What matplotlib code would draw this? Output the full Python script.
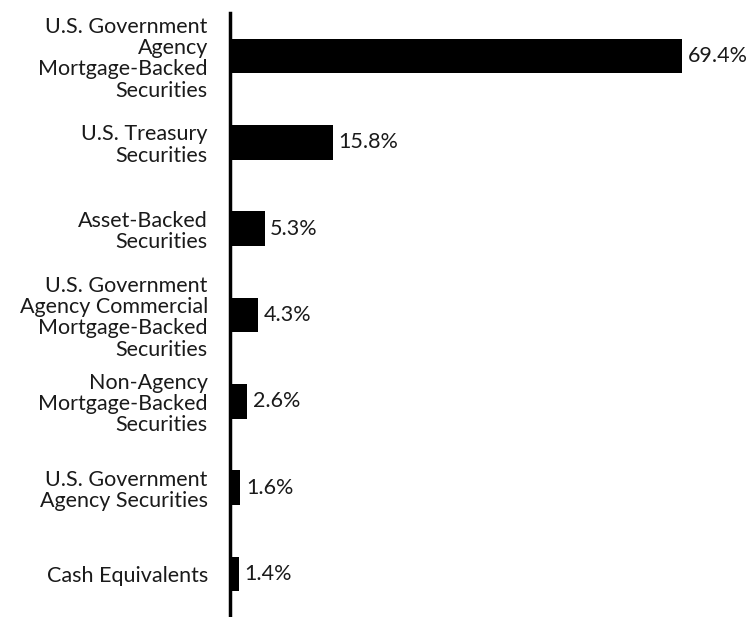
import matplotlib.pyplot as plt

categories = [
    "U.S. Government\nAgency\nMortgage-Backed\nSecurities",
    "U.S. Treasury\nSecurities",
    "Asset-Backed\nSecurities",
    "U.S. Government\nAgency Commercial\nMortgage-Backed\nSecurities",
    "Non-Agency\nMortgage-Backed\nSecurities",
    "U.S. Government\nAgency Securities",
    "Cash Equivalents",
]
values = [69.4, 15.8, 5.3, 4.3, 2.6, 1.6, 1.4]
value_labels = ["69.4%", "15.8%", "5.3%", "4.3%", "2.6%", "1.6%", "1.4%"]

plt.rcParams['font.family'] = ['Lato', 'DejaVu Sans']

fig = plt.figure(figsize=(7.53, 6.17), dpi=100)
ax = fig.add_axes([0.3055, 0.0, 0.692, 0.979])

pos = list(range(len(values)))
bars = ax.barh(pos, values, height=0.4, color='black')

for bar, lab in zip(bars, value_labels):
    ax.annotate(lab, (bar.get_width(), bar.get_y() + bar.get_height() / 2),
                xytext=(4, 0), textcoords='offset points',
                va='center', ha='left', fontsize=15.5, color='#1a1a1a')

ax.set_yticks(pos)
ax.set_yticklabels(categories, fontsize=15.5, linespacing=1.08, color='#1a1a1a')
ax.set_ylim(len(values) - 0.5, -0.5)
ax.set_xlim(0, 80)
ax.set_xticks([])
ax.tick_params(axis='y', length=0, pad=16)

for s in ['top', 'right', 'bottom']:
    ax.spines[s].set_visible(False)
ax.spines['left'].set_linewidth(2.5)
ax.spines['left'].set_color('black')

fig.savefig("out.png", dpi=100)
